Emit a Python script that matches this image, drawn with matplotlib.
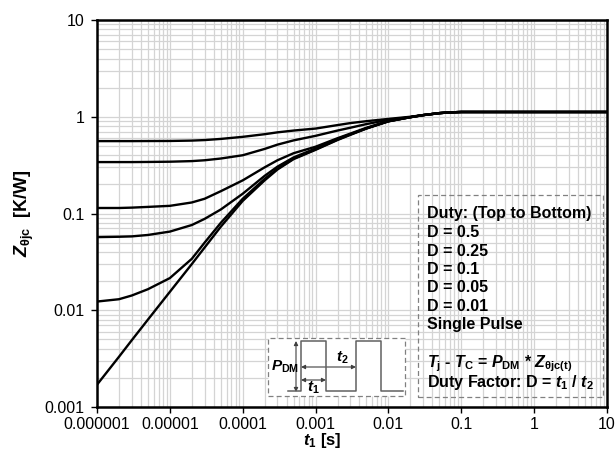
import matplotlib
matplotlib.use("Agg")
import matplotlib.pyplot as plt
from matplotlib.ticker import FixedLocator, FixedFormatter, NullFormatter, LogLocator
from matplotlib.patches import Rectangle, FancyArrowPatch

plt.rcParams['font.family'] = ['Liberation Sans', 'DejaVu Sans']
plt.rcParams['mathtext.fontset'] = 'custom'
plt.rcParams['mathtext.rm'] = 'Liberation Sans:bold'
plt.rcParams['mathtext.bf'] = 'Liberation Sans:bold'
plt.rcParams['mathtext.it'] = 'Liberation Sans:bold:italic'

# ---- data ----
t1 = [1e-6, 2e-6, 3e-6, 5e-6, 1e-5, 2e-5, 3e-5, 5e-5, 1e-4, 2e-4, 3e-4, 5e-4,
      1e-3, 2e-3, 3e-3, 5e-3, 1e-2, 2e-2, 3e-2, 5e-2, 7e-2, 1e-1, 1, 10]
z_d050 = [0.56, 0.56, 0.56, 0.561, 0.562, 0.567, 0.574, 0.59, 0.62, 0.66, 0.69, 0.72,
          0.755, 0.82, 0.86, 0.90, 0.95, 1.0, 1.04, 1.09, 1.11, 1.12, 1.12, 1.12]
z_d025 = [0.34, 0.34, 0.34, 0.341, 0.343, 0.348, 0.355, 0.37, 0.40, 0.465, 0.515, 0.57,
          0.635, 0.72, 0.77, 0.84, 0.93, 0.99, 1.04, 1.09, 1.11, 1.12, 1.12, 1.12]
z_d010 = [0.114, 0.114, 0.115, 0.117, 0.12, 0.13, 0.142, 0.17, 0.22, 0.30, 0.355, 0.42,
          0.49, 0.60, 0.67, 0.77, 0.90, 0.99, 1.04, 1.09, 1.11, 1.12, 1.12, 1.12]
z_d005 = [0.057, 0.0575, 0.058, 0.06, 0.065, 0.076, 0.088, 0.11, 0.16, 0.245, 0.305, 0.38,
          0.47, 0.59, 0.66, 0.76, 0.90, 0.99, 1.04, 1.09, 1.11, 1.12, 1.12, 1.12]
z_d001 = [0.0123, 0.013, 0.0142, 0.0165, 0.0215, 0.034, 0.05, 0.08, 0.142, 0.228, 0.29, 0.37,
          0.46, 0.58, 0.655, 0.76, 0.90, 0.99, 1.04, 1.09, 1.11, 1.12, 1.12, 1.12]
z_single = [0.0017, 0.0033, 0.0049, 0.008, 0.0155, 0.030, 0.0445, 0.073, 0.135, 0.22, 0.285, 0.365,
            0.455, 0.575, 0.65, 0.755, 0.895, 0.99, 1.04, 1.09, 1.11, 1.12, 1.12, 1.12]
series = [z_d050, z_d025, z_d010, z_d005, z_d001, z_single]

xticks = [1e-6, 1e-5, 1e-4, 1e-3, 1e-2, 1e-1, 1, 10]
xticklabels = ['0.000001', '0.00001', '0.0001', '0.001', '0.01', '0.1', '1', '10']
yticks = [0.001, 0.01, 0.1, 1, 10]
yticklabels = ['0.001', '0.01', '0.1', '1', '10']
legend_lines = ['Duty: (Top to Bottom)', 'D = 0.5', 'D = 0.25', 'D = 0.1',
                'D = 0.05', 'D = 0.01', 'Single Pulse']

W, H = 616, 450
fig = plt.figure(figsize=(W / 100, H / 100), dpi=100)
L, R, T, B = 97, 607, 20, 407
ax = fig.add_axes([L / W, 1 - B / H, (R - L) / W, (B - T) / H])

for z in series:
    ax.plot(t1, z, color='black', lw=1.7, solid_joinstyle='round', zorder=3)

ax.set_xscale('log')
ax.set_yscale('log')
ax.set_xlim(1e-6, 10)
ax.set_ylim(0.001, 10)
ax.xaxis.set_major_locator(FixedLocator(xticks))
ax.xaxis.set_major_formatter(FixedFormatter(xticklabels))
ax.yaxis.set_major_locator(FixedLocator(yticks))
ax.yaxis.set_major_formatter(FixedFormatter(yticklabels))
ax.xaxis.set_minor_locator(LogLocator(base=10, subs=range(2, 10), numticks=20))
ax.yaxis.set_minor_locator(LogLocator(base=10, subs=range(2, 10), numticks=20))
ax.xaxis.set_minor_formatter(NullFormatter())
ax.yaxis.set_minor_formatter(NullFormatter())
ax.tick_params(which='major', direction='out', length=4, width=1, labelsize=11.5, pad=5)
ax.tick_params(axis='x', which='major', pad=3)
ax.tick_params(which='minor', length=0)
ax.grid(True, which='both', color='#d4d4d4', lw=0.9, zorder=0)
ax.set_axisbelow(True)
for s in ax.spines.values():
    s.set_linewidth(1.8)
    s.set_color('black')

ax.set_ylabel(r'$Z_{\mathrm{\theta jc}}$  [K/W]', fontsize=13, fontweight='bold')
ax.yaxis.set_label_coords((36 - L) / (R - L), 0.5)
ax.set_xlabel(r'$t_{\mathrm{1}}$ [s]', fontsize=12, fontweight='bold')
ax.xaxis.set_label_coords((322 - L) / (R - L), -(431 - B) / (B - T))


def fx(px):
    return px / W


def fy(py):
    return 1 - py / H


# legend box (dashed)
fig.patches.append(Rectangle((fx(418), fy(397)), (603 - 418) / W, (397 - 195) / H,
                             transform=fig.transFigure, fill=False, ec='#808080',
                             lw=0.9, ls=(0, (4, 2.5)), zorder=5))
ys = [214, 232.5, 251, 269.5, 288, 306.5, 325]
for line, yy in zip(legend_lines, ys):
    fig.text(fx(427), fy(yy), line, fontsize=11.5, fontweight='bold', va='center', ha='left')
fig.text(fx(427), fy(364),
         r'$T_{\mathrm{j}}$ - $T_{\mathrm{C}}$ = $P_{\mathrm{DM}}$ * $Z_{\mathrm{\theta jc(t)}}$',
         fontsize=11.5, fontweight='bold', va='center', ha='left')
fig.text(fx(427), fy(383), r'Duty Factor: D = $t_{\mathrm{1}}$ / $t_{\mathrm{2}}$',
         fontsize=11.5, fontweight='bold', va='center', ha='left')

# pulse diagram inset
bx0, bx1, by0, by1 = 268, 405, 338, 396
iax = fig.add_axes([fx(bx0), fy(by1), (bx1 - bx0) / W, (by1 - by0) / H])
iax.set_xlim(0, bx1 - bx0)
iax.set_ylim(0, by1 - by0)
iax.axis('off')
iax.patch.set_visible(False)
fig.patches.append(Rectangle((fx(bx0), fy(by1)), (bx1 - bx0) / W, (by1 - by0) / H,
                             transform=fig.transFigure, fill=True, fc='white', ec='#808080',
                             lw=0.9, ls=(0, (4, 2.5)), zorder=4))
iax.set_zorder(6)
px = [20, 33, 33, 58, 58, 88, 88, 113, 113, 135]
py = [5, 5, 55, 55, 5, 5, 55, 55, 5, 5]
iax.plot(px, py, color='#606060', lw=1.1)
ap = dict(arrowstyle='<|-|>', color='#404040', lw=0.8, mutation_scale=6, shrinkA=0, shrinkB=0)
iax.add_patch(FancyArrowPatch((28, 55), (28, 4), **ap))
iax.add_patch(FancyArrowPatch((33, 29), (88, 29), **ap))
iax.add_patch(FancyArrowPatch((33, 16), (58, 16), **ap))
iax.text(3, 29, r'$P_{\mathrm{DM}}$', fontsize=11, ha='left', va='center')
iax.text(74, 38, r'$t_{\mathrm{2}}$', fontsize=11, ha='center', va='center')
iax.text(45, 8, r'$t_{\mathrm{1}}$', fontsize=11, ha='center', va='center')

fig.savefig('out.png', dpi=100)
